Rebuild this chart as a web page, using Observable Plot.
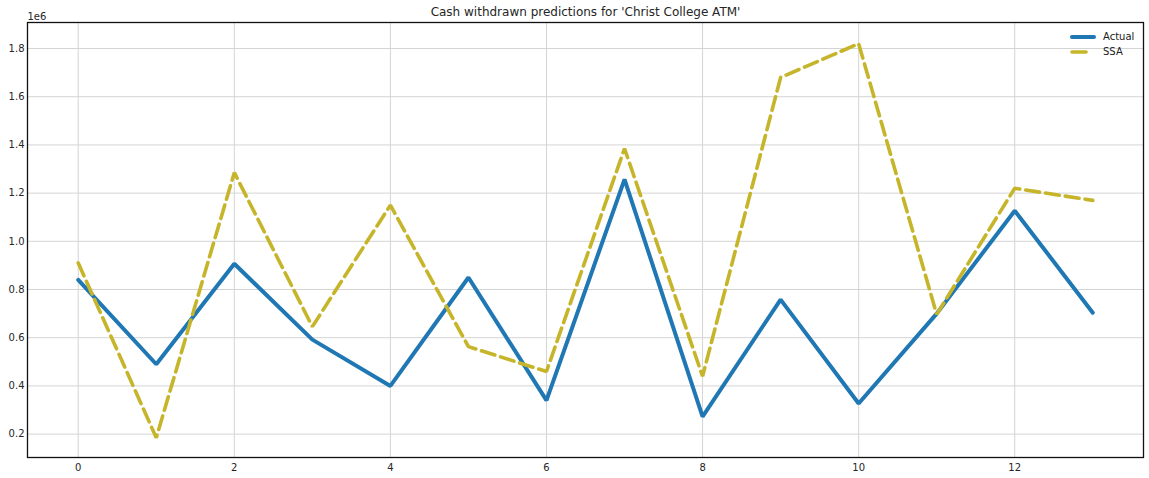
<!DOCTYPE html>
<html>
<head>
<meta charset="utf-8">
<script src="https://cdn.jsdelivr.net/npm/d3@7"></script>
<script src="https://cdn.jsdelivr.net/npm/@observablehq/plot@0.6"></script>
<style>
  html, body { margin: 0; padding: 0; background: #fff; }
  #wrap { position: relative; width: 1149px; height: 478px; font-family: "DejaVu Sans", sans-serif; }
  #legend { position: absolute; left: 1070px; top: 29px; font-size: 10px; color: #222; line-height: 15px; }
  #legend div { display: flex; align-items: center; }
  #legend svg { margin-right: 7px; }
</style>
</head>
<body>
<div id="wrap"></div>
<script>
const title = "Cash withdrawn predictions for 'Christ College ATM'";
const days = [0, 1, 2, 3, 4, 5, 6, 7, 8, 9, 10, 11, 12, 13];
const actual = [840000, 490000, 907000, 592000, 400000, 850000, 340000, 1257000, 273000, 758000, 327000, 700000, 1127000, 704000];
const ssa = [910000, 185000, 1285000, 646000, 1150000, 563000, 460000, 1385000, 440000, 1680000, 1820000, 697000, 1220000, 1170000];
const xTicks = [0, 2, 4, 6, 8, 10, 12];
const yTicks = [200000, 400000, 600000, 800000, 1000000, 1200000, 1400000, 1600000, 1800000];
const seriesNames = ["Actual", "SSA"];
const seriesColors = ["#1f77b4", "#c6b52a"];

const actualData = days.map((d, i) => ({x: d, y: actual[i]}));
const ssaData = days.map((d, i) => ({x: d, y: ssa[i]}));

const chart = Plot.plot({
  width: 1149,
  height: 478,
  marginLeft: 27,
  marginRight: 6,
  marginTop: 22,
  marginBottom: 21,
  style: {fontFamily: "DejaVu Sans, sans-serif", fontSize: "10px", color: "#262626", background: "#fff"},
  x: {domain: [-0.65, 13.65], ticks: xTicks, tickSize: 0, tickPadding: 6, tickFormat: d => String(d), label: null},
  y: {domain: [103000, 1908000], ticks: yTicks, tickSize: 0, tickPadding: 3, tickFormat: d => (d / 1e6).toFixed(1), label: null},
  marks: [
    Plot.gridX(xTicks, {stroke: "#d4d4d4", strokeOpacity: 1, strokeWidth: 1}),
    Plot.gridY(yTicks, {stroke: "#d4d4d4", strokeOpacity: 1, strokeWidth: 1}),
    Plot.axisX(xTicks, {tickSize: 0, tickPadding: 6, tickFormat: d => String(d), label: null}),
    Plot.axisY(yTicks, {tickSize: 0, tickPadding: 3, tickFormat: d => (d / 1e6).toFixed(1), label: null}),
    Plot.line(actualData, {x: "x", y: "y", stroke: seriesColors[0], strokeWidth: 4, strokeLinejoin: "miter"}),
    Plot.line(ssaData, {x: "x", y: "y", stroke: seriesColors[1], strokeWidth: 3.6, strokeDasharray: "14,6", strokeLinejoin: "miter"}),
    Plot.frame({stroke: "#111", strokeWidth: 1.3}),
    Plot.text([title], {frameAnchor: "top", dy: -10, lineAnchor: "middle", fontSize: 12, fill: "#262626"}),
    Plot.text(["1e6"], {frameAnchor: "top-left", dy: -3, dx: 0, textAnchor: "start", lineAnchor: "bottom", fontSize: 10, fill: "#262626"})
  ]
});
const wrap = document.getElementById("wrap");
wrap.appendChild(chart);

const legend = document.createElement("div");
legend.id = "legend";
seriesNames.forEach((name, i) => {
  const row = document.createElement("div");
  const dash = i === 1 ? 'stroke-dasharray="14,20"' : '';
  row.innerHTML = `<svg width="26" height="8"><line x1="2" y1="4" x2="24" y2="4" stroke="${seriesColors[i]}" stroke-width="${i === 0 ? 4 : 3.6}" stroke-linecap="round" ${dash}></line></svg><span>${name}</span>`;
  legend.appendChild(row);
});
wrap.appendChild(legend);
</script>
</body>
</html>
